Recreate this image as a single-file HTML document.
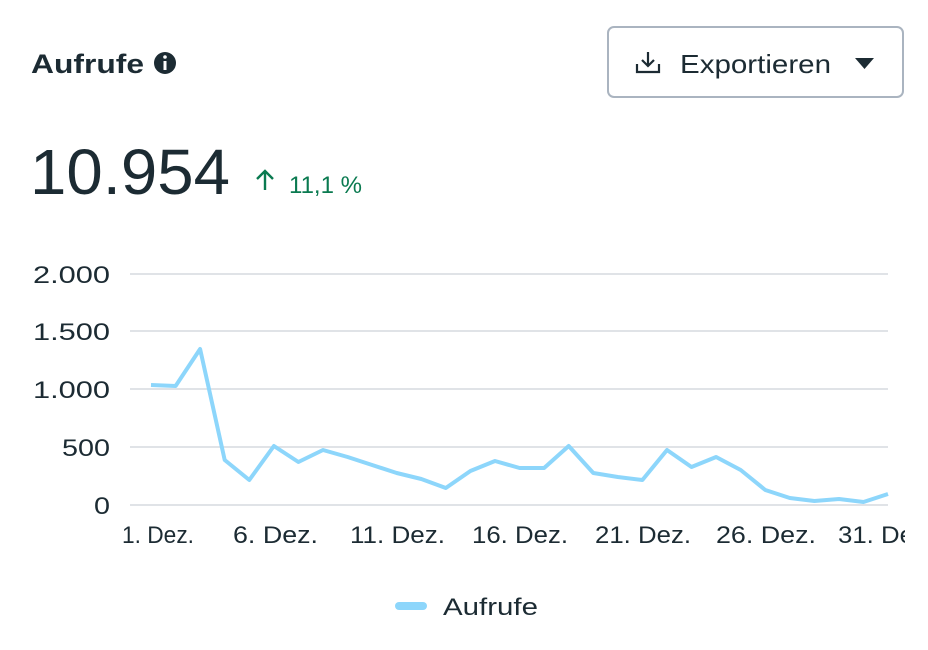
<!DOCTYPE html>
<html><head><meta charset="utf-8"><style>
body{margin:0;width:928px;height:650px;background:#fff;overflow:hidden;font-family:"Liberation Sans",sans-serif;color:#1c2b33}
</style></head><body>
<svg width="928" height="650" xmlns="http://www.w3.org/2000/svg" style="position:absolute;left:0;top:0">
<text x="31" y="73" font-size="27" font-weight="bold" fill="#1c2b33" textLength="113" lengthAdjust="spacingAndGlyphs">Aufrufe</text>
<circle cx="165" cy="63" r="11" fill="#1c2b33"/>
<rect x="163.5" y="61" width="3" height="9" fill="#fff"/><circle cx="165" cy="57" r="1.8" fill="#fff"/>
<rect x="608" y="27" width="295" height="70" rx="6" fill="#fff" stroke="#aab4c0" stroke-width="2"/>
<path d="M648 52v14M642 60l6 6 6-6M637 64v8h22v-8" fill="none" stroke="#1c2b33" stroke-width="2.2"/>
<text x="680" y="73" font-size="26" fill="#1c2b33" textLength="151" lengthAdjust="spacingAndGlyphs">Exportieren</text>
<path d="M855 58h19l-9.5 11z" fill="#1c2b33"/>
<text x="30" y="194" font-size="64" fill="#1c2b33" textLength="200" lengthAdjust="spacingAndGlyphs">10.954</text>
<path d="M265 190v-19M257 179l8-8 8 8" fill="none" stroke="#0a7a50" stroke-width="2.4"/>
<text x="289" y="193" font-size="24" fill="#0a7a50" textLength="73" lengthAdjust="spacingAndGlyphs">11,1 %</text>
<g stroke="#d6dadf" stroke-width="1.5">
<line x1="130" y1="274" x2="888" y2="274"/><line x1="130" y1="331" x2="888" y2="331"/>
<line x1="130" y1="389" x2="888" y2="389"/><line x1="130" y1="447" x2="888" y2="447"/>
<line x1="130" y1="505" x2="888" y2="505"/></g>
<g font-size="24" fill="#1c2b33" lengthAdjust="spacingAndGlyphs">
<text x="33" y="283" textLength="77" lengthAdjust="spacingAndGlyphs">2.000</text>
<text x="33" y="340" textLength="77" lengthAdjust="spacingAndGlyphs">1.500</text>
<text x="33" y="398" textLength="77" lengthAdjust="spacingAndGlyphs">1.000</text>
<text x="62" y="456" textLength="48" lengthAdjust="spacingAndGlyphs">500</text>
<text x="94" y="514" textLength="16" lengthAdjust="spacingAndGlyphs">0</text></g>
<g font-size="24" fill="#1c2b33">
<text x="122" y="543" textLength="72" lengthAdjust="spacingAndGlyphs">1. Dez.</text>
<text x="233" y="543" textLength="85" lengthAdjust="spacingAndGlyphs">6. Dez.</text>
<text x="350" y="543" textLength="95" lengthAdjust="spacingAndGlyphs">11. Dez.</text>
<text x="472" y="543" textLength="96" lengthAdjust="spacingAndGlyphs">16. Dez.</text>
<text x="595" y="543" textLength="96" lengthAdjust="spacingAndGlyphs">21. Dez.</text>
<text x="716" y="543" textLength="100" lengthAdjust="spacingAndGlyphs">26. Dez.</text>
<text x="838" y="543" textLength="96" lengthAdjust="spacingAndGlyphs">31. Dez.</text></g>
<rect x="905" y="520" width="23" height="40" fill="#fff"/>
<polyline fill="none" stroke="#8dd6fb" stroke-width="4" stroke-linejoin="round" points="151,385 175.6,386 200.1,349 224.7,460 249.3,480 273.9,446 298.4,462 323,450 347.6,457 372.1,465 396.7,473 421.3,479 445.8,488 470.4,471 495,461 519.6,468 544.1,468 568.7,446 593.3,473 617.8,477 642.4,480 667,450 691.5,467 716.1,457 740.7,470 765.3,490 789.8,498 814.4,501 839,499 863.5,502 888,494"/>
<rect x="395" y="602" width="32" height="8" rx="4" fill="#8dd6fb"/>
<text x="443" y="615" font-size="24" fill="#1c2b33" textLength="95" lengthAdjust="spacingAndGlyphs">Aufrufe</text>
</svg>
</body></html>
